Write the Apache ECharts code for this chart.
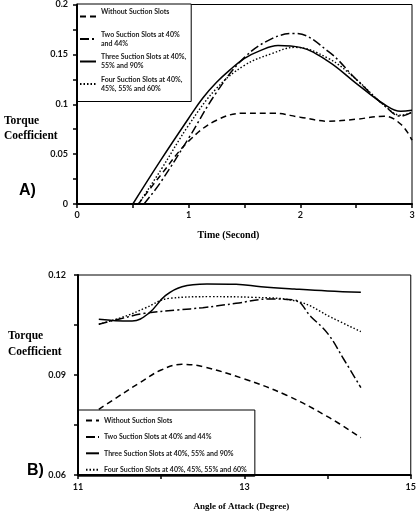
<!DOCTYPE html>
<html>
<head>
<meta charset="utf-8">
<script src="https://cdn.jsdelivr.net/npm/echarts@6/dist/echarts.min.js"></script>
<style>
  html, body { margin: 0; padding: 0; background: #fff; }
  #chart { width: 419px; height: 512px; }
</style>
</head>
<body>
<div id="chart"></div>
<script>
// series names
var names = ['Without Suction Slots', 'Two Suction Slots at 40% and 44%',
  'Three Suction Slots at 40%, 55% and 90%', 'Four Suction Slots at 40%, 45%, 55% and 60%'];
// wrapped names for the top legend
var namesWrapped = ['Without Suction Slots\n ', 'Two Suction Slots at 40%\nand 44%',
  'Three Suction Slots at 40%,\n55% and 90%', 'Four Suction Slots at 40%,\n45%, 55% and 60%'];

// A) torque coefficient vs time (second)
var tWithout = [0.55, 0.75, 1, 1.25, 1.5, 1.75, 2, 2.25, 2.5, 2.75, 2.9, 3];
var cWithout = [0, 0.029, 0.063, 0.084, 0.091, 0.091, 0.087, 0.083, 0.085, 0.088, 0.080, 0.064];
var tTwo = [0.6, 0.75, 1, 1.25, 1.5, 1.75, 1.95, 2.25, 2.5, 2.75, 2.9, 3];
var cTwo = [0, 0.022, 0.066, 0.112, 0.147, 0.166, 0.171, 0.153, 0.125, 0.099, 0.088, 0.092];
var tThree = [0.5, 0.75, 1, 1.125, 1.25, 1.375, 1.5, 1.625, 1.8, 2, 2.25, 2.5, 2.75, 2.9, 3];
var cThree = [0, 0.044, 0.086, 0.106, 0.122, 0.135, 0.146, 0.153, 0.159, 0.157, 0.143, 0.121, 0.100, 0.093, 0.094];
var tFour = [0.55, 0.75, 1, 1.25, 1.5, 1.75, 1.95, 2.25, 2.5, 2.75, 2.9, 3];
var cFour = [0, 0.034, 0.079, 0.116, 0.139, 0.151, 0.157, 0.146, 0.125, 0.099, 0.089, 0.092];

// B) torque coefficient vs angle of attack (degree)
var aWithout = [11.25, 11.5, 11.75, 12.0, 12.25, 12.5, 13.0, 13.5, 14.0, 14.4];
var bWithout = [0.0797, 0.0838, 0.0878, 0.0915, 0.0932, 0.0925, 0.0888, 0.0840, 0.0775, 0.0712];
var aTwo = [11.25, 11.5, 11.8, 12.2, 12.5, 12.9, 13.3, 13.6, 13.8, 14.0, 14.2, 14.4];
var bTwo = [0.1052, 0.1068, 0.1085, 0.1095, 0.1102, 0.1115, 0.1128, 0.1125, 0.1075, 0.1025, 0.0945, 0.0862];
var aThree = [11.25, 11.45, 11.65, 11.85, 12.05, 12.25, 12.55, 12.9, 13.2, 13.6, 14.0, 14.4];
var bThree = [0.1067, 0.1063, 0.1062, 0.1085, 0.1138, 0.1165, 0.1173, 0.1172, 0.1165, 0.1158, 0.1152, 0.1148];
var aFour = [11.25, 11.6, 11.8, 12.1, 12.6, 13.1, 13.65, 14.05, 14.4];
var bFour = [0.1052, 0.1079, 0.1100, 0.1130, 0.1135, 0.1133, 0.1120, 0.1072, 0.1030];

// tick labels
var ticksA_x = [0, 1, 2, 3];
var ticksA_y = [0, 0.05, 0.1, 0.15, 0.2];
var ticksB_x = [11, 13, 15];
var ticksB_y = [0.06, 0.09, 0.12];

var lineTypes = [[6, 4], [9, 3, 2, 3], 'solid', [1.5, 2]];

function pairs(xs, ys) {
  return xs.map(function (x, i) { return [x, ys[i]]; });
}

var tickFont = { fontFamily: 'Lato', fontWeight: 'bold', fontSize: 9, color: '#111' };

function makeAxis(gi, min, max, interval, labelMargin) {
  return {
    type: 'value', gridIndex: gi, min: min, max: max, interval: interval,
    axisLine: { show: true, lineStyle: { color: '#000', width: 2 } },
    axisTick: { show: true, length: 4, lineStyle: { color: '#000', width: 1.5 } },
    minorTick: { show: true, splitNumber: 2, length: 4, lineStyle: { color: '#000', width: 1.5 } },
    splitLine: { show: false },
    axisLabel: Object.assign({ margin: labelMargin }, tickFont),
    z: 5
  };
}

var seriesList = [];
var dataA = [pairs(tWithout, cWithout), pairs(tTwo, cTwo), pairs(tThree, cThree), pairs(tFour, cFour)];
var dataB = [pairs(aWithout, bWithout), pairs(aTwo, bTwo), pairs(aThree, bThree), pairs(aFour, bFour)];
[dataA, dataB].forEach(function (set, gi) {
  set.forEach(function (d, i) {
    seriesList.push({
      name: names[i], type: 'line', xAxisIndex: gi, yAxisIndex: gi,
      data: d, smooth: 0.4, symbol: 'none',
      lineStyle: { color: '#000', width: i === 3 ? 1.4 : 1.5, type: lineTypes[i] },
      itemStyle: { color: '#000' }
    });
  });
});

var xA = makeAxis(0, 0, 3, 1, 7);
xA.name = 'Time (Second)';
xA.nameLocation = 'middle';
xA.nameGap = 26;
xA.nameTextStyle = { fontFamily: 'Liberation Serif', fontWeight: 'bold', fontSize: 10, color: '#000', padding: [0, 32, 0, 0] };
var yA = makeAxis(0, 0, 0.2, 0.05, 9);
var xB = makeAxis(1, 11, 15, 2, 8);
xB.name = 'Angle of Attack (Degree)';
xB.nameLocation = 'middle';
xB.nameGap = 27;
xB.nameTextStyle = { fontFamily: 'Liberation Serif', fontWeight: 'bold', fontSize: 9, color: '#000', padding: [0, 6, 0, 0] };
var yB = makeAxis(1, 0.06, 0.12, 0.03, 12);

var legendText = { fontFamily: 'Lato', fontWeight: 'bold', fontSize: 7, color: '#222' };

var option = {
  animation: false,
  backgroundColor: '#fff',
  grid: [
    { left: 77, right: 7, top: 4, bottom: 308, show: true, borderColor: '#000', borderWidth: 1 },
    { left: 78, right: 7, top: 275, bottom: 37, show: true, borderColor: '#000', borderWidth: 1 }
  ],
  xAxis: [xA, xB],
  yAxis: [yA, yB],
  legend: [
    {
      left: 77, top: 4, orient: 'vertical', align: 'left',
      data: names, itemWidth: 16, itemHeight: 9, itemGap: -4.5,
      padding: [-1, 5, 4, 2],
      backgroundColor: '#fff', borderColor: '#000', borderWidth: 1, borderRadius: 0,
      selectedMode: false,
      itemStyle: { opacity: 0 },
      formatter: function (n) { return namesWrapped[names.indexOf(n)]; },
      textStyle: Object.assign({ lineHeight: 9, padding: [9, 0, 0, 0] }, legendText)
    },
    {
      left: 78, top: 410, orient: 'vertical', align: 'left',
      data: names, itemWidth: 13, itemHeight: 9, itemGap: 7.4,
      padding: [6, 8, 2, 7],
      backgroundColor: '#fff', borderColor: '#000', borderWidth: 1, borderRadius: 0,
      selectedMode: false,
      itemStyle: { opacity: 0 },
      textStyle: Object.assign({ lineHeight: 9 }, legendText)
    }
  ],
  graphic: [
    { type: 'text', left: 4, top: 114, style: { text: 'Torque\nCoefficient', align: 'center', lineHeight: 15,
      font: 'bold 11.5px "Liberation Serif"', fill: '#000' } },
    { type: 'text', left: 8, top: 328, style: { text: 'Torque\nCoefficient', align: 'center', lineHeight: 16,
      font: 'bold 11.5px "Liberation Serif"', fill: '#000' } },
    { type: 'text', left: 19, top: 183, style: { text: 'A)', font: 'bold 16px "Liberation Sans"', fill: '#000' } },
    { type: 'text', left: 27, top: 463, style: { text: 'B)', font: 'bold 16px "Liberation Sans"', fill: '#000' } }
  ],
  series: seriesList
};

var myChart = echarts.init(document.getElementById('chart'), null, { renderer: 'canvas' });
myChart.setOption(option);
</script>
</body>
</html>
